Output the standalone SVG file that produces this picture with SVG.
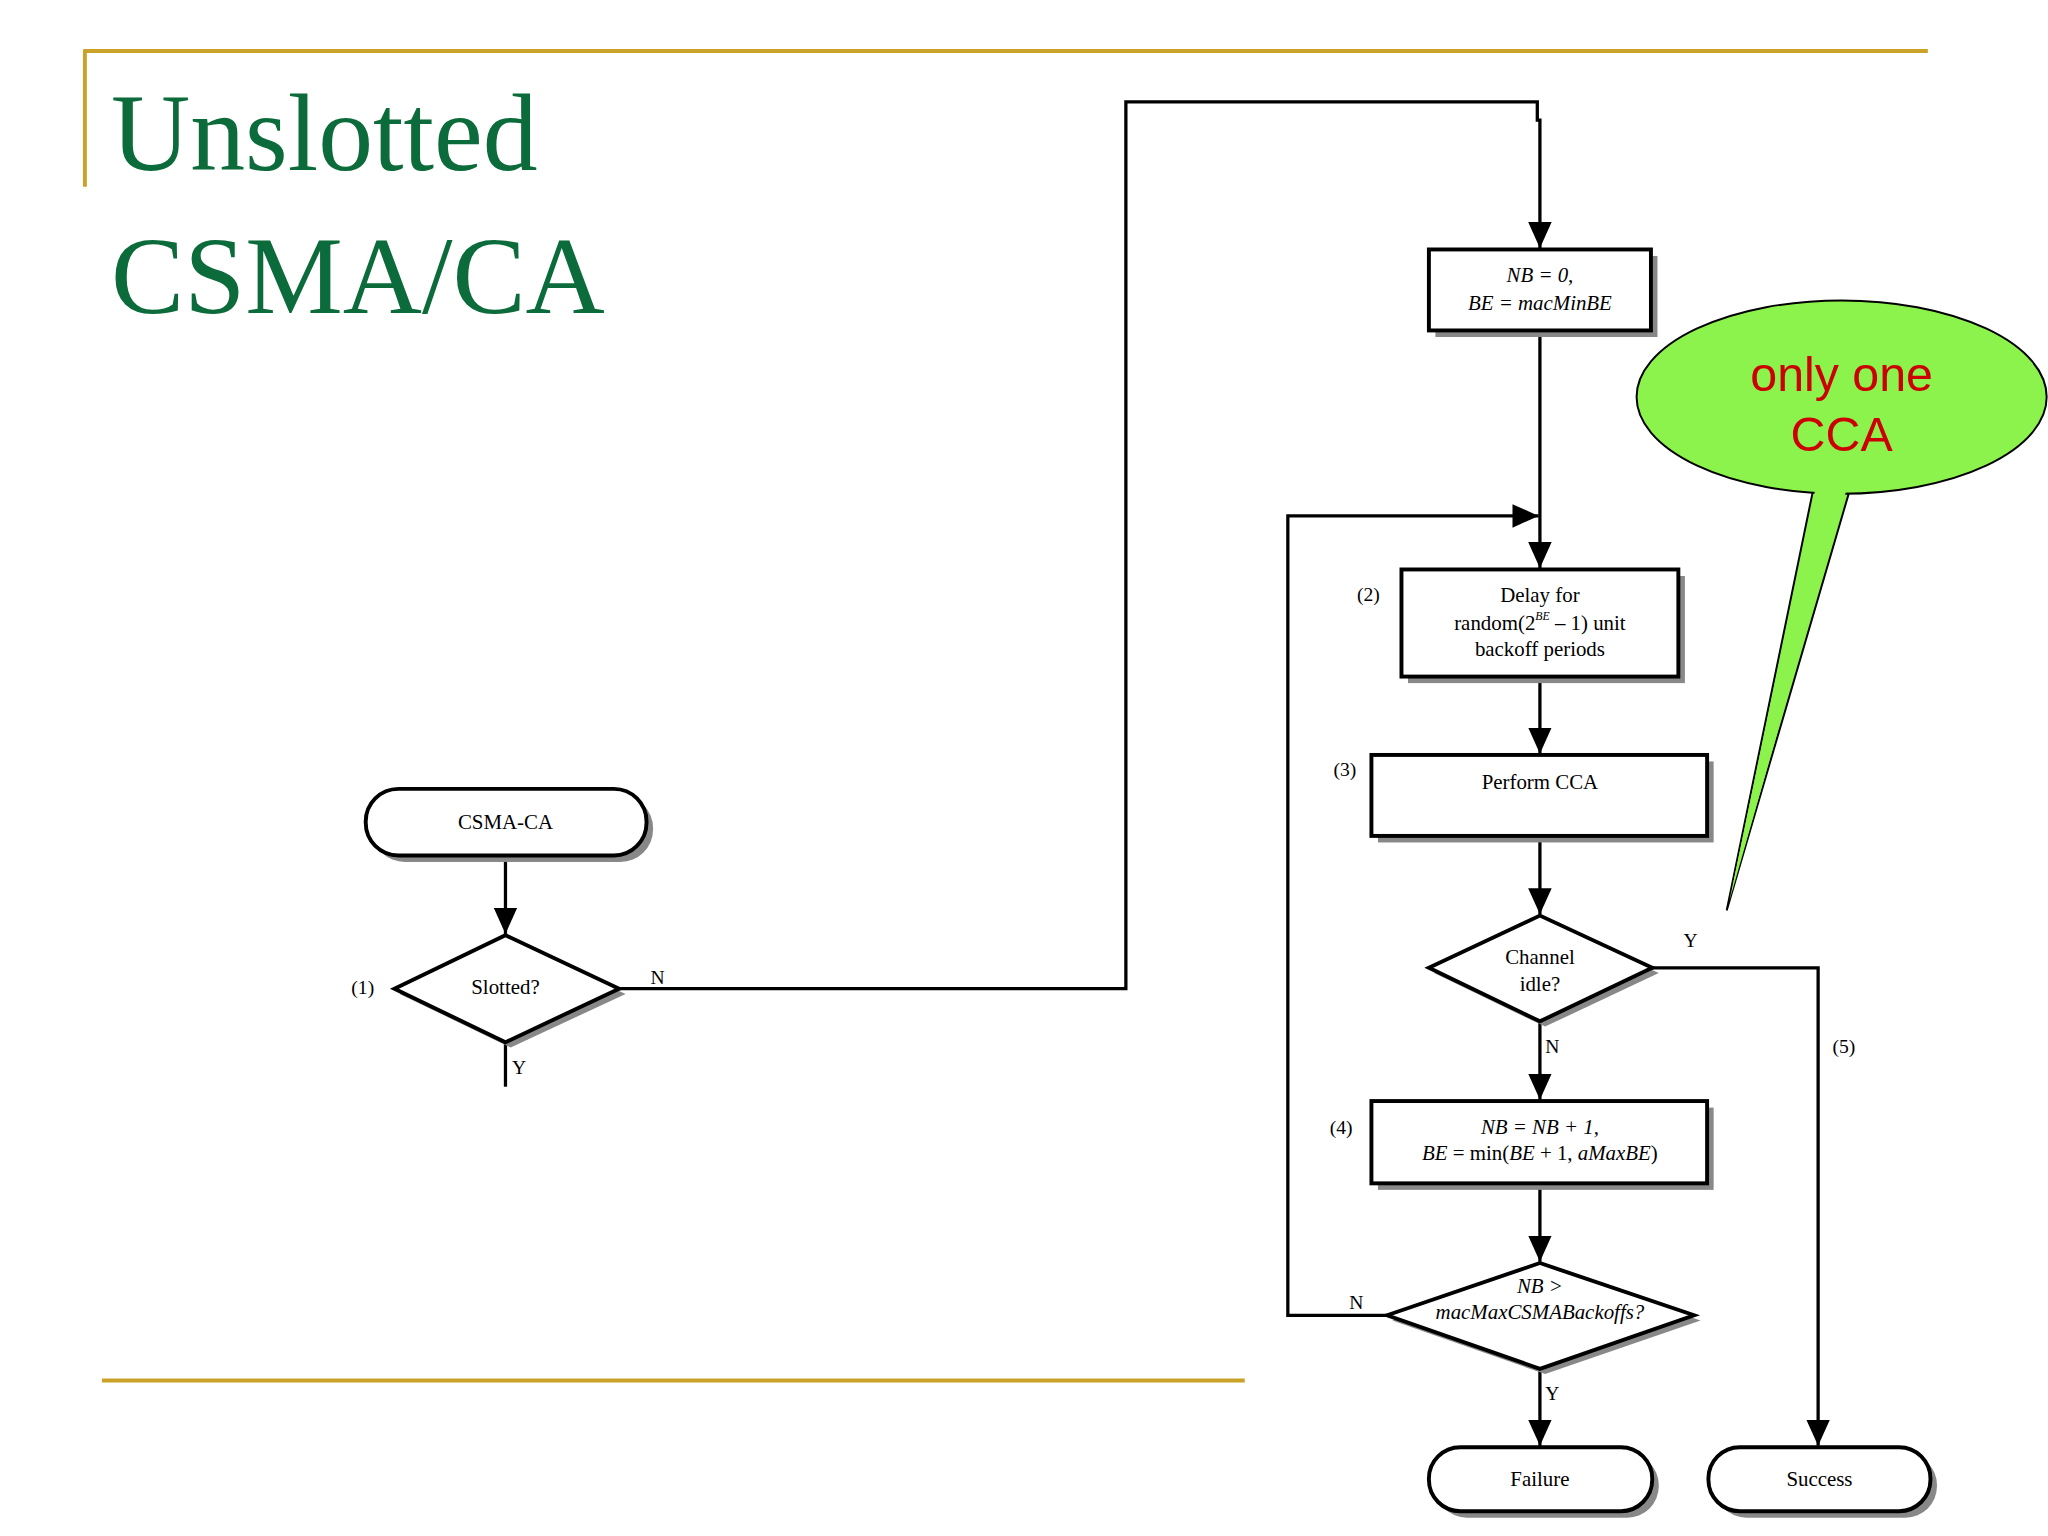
<svg xmlns="http://www.w3.org/2000/svg" width="2048" height="1536" viewBox="0 0 2048 1536">
<style>
.t{font-family:"Liberation Serif",serif;font-size:16px;fill:#000;text-anchor:middle}
.i{font-style:italic}
.l{font-family:"Liberation Serif",serif;font-size:15px;fill:#000}
.box{fill:#fff;stroke:#000;stroke-width:3}
.sh{fill:#888}
.c{fill:none;stroke:#000;stroke-width:2.5}
.title{font-family:"Liberation Serif",serif;font-size:84px;fill:#0b6b3a}
</style>
<defs>
<marker id="a" viewBox="0 0 10 10" refX="10" refY="5" markerWidth="7" markerHeight="7" orient="auto" markerUnits="userSpaceOnUse"><path d="M0,0 L10,5 L0,10 z" fill="#000"/></marker>
<marker id="ah" viewBox="0 0 20 20" refX="20" refY="10" markerWidth="20" markerHeight="20" orient="auto" markerUnits="userSpaceOnUse"><path d="M0,1 L20,10 L0,19 z" fill="#000"/></marker>
</defs>
<rect width="2048" height="1536" fill="#fff"/>
<g transform="scale(1.30612)">
<g id="decor">
<line x1="64" y1="39" x2="1476" y2="39" stroke="#c9a227" stroke-width="3"/>
<line x1="65" y1="38" x2="65" y2="143" stroke="#c9a227" stroke-width="3"/>
<line x1="78" y1="1057" x2="953" y2="1057" stroke="#c9a227" stroke-width="3"/>
<text class="title" x="85" y="130">Unslotted</text>
<text class="title" x="85" y="240">CSMA/CA</text>
</g>
<g id="connectors">
<path class="c" d="M387,655 V715" marker-end="url(#ah)"/>
<path class="c" d="M387,798 V832"/>
<path class="c" d="M474,757 H862 V78 H1177 V92 H1179 V190" marker-end="url(#ah)"/>
<path class="c" d="M1179,253 V435" marker-end="url(#ah)"/>
<path class="c" d="M1062,1007 H986 V395 H1178" marker-end="url(#ah)"/>
<path class="c" d="M1179,518 V577" marker-end="url(#ah)"/>
<path class="c" d="M1179,640 V700" marker-end="url(#ah)"/>
<path class="c" d="M1265,741 H1392 V1107" marker-end="url(#ah)"/>
<path class="c" d="M1179,782 V842" marker-end="url(#ah)"/>
<path class="c" d="M1179,906 V966" marker-end="url(#ah)"/>
<path class="c" d="M1179,1048 V1107" marker-end="url(#ah)"/>
<text class="l" x="498" y="753">N</text>
<text class="l" x="392" y="822">Y</text>
<text class="l" x="1289" y="725">Y</text>
<text class="l" x="1183" y="806">N</text>
<text class="l" x="1403" y="806">(5)</text>
<text class="l" x="1033" y="1002">N</text>
<text class="l" x="1183" y="1072">Y</text>
</g>
<g id="start">
<rect class="sh" x="285" y="609" width="215" height="51" rx="25"/>
<rect class="box" x="280" y="604" width="215" height="51" rx="25"/>
<text class="t" x="387" y="635">CSMA-CA</text>
</g>
<g id="slotted">
<path class="sh" d="M306,761 L391,720 L479,761 L391,802 z"/>
<path class="box" d="M302,757 L387,716 L474,757 L387,798 z"/>
<text class="t" x="387" y="761">Slotted?</text>
<text class="l" x="269" y="761">(1)</text>
</g>
<g id="init">
<rect class="sh" x="1099" y="196" width="170" height="62"/>
<rect class="box" x="1094" y="191" width="170" height="62"/>
<text class="t i" x="1179" y="216">NB = 0,</text>
<text class="t i" x="1179" y="237">BE = macMinBE</text>
</g>
<g id="delay">
<rect class="sh" x="1078" y="441" width="212" height="82"/>
<rect class="box" x="1073" y="436" width="212" height="82"/>
<text class="t" x="1179" y="461">Delay for</text>
<text class="t" x="1179" y="482">random(2<tspan font-size="9" dy="-7" font-style="italic">BE</tspan><tspan dy="7"> – 1) unit</tspan></text>
<text class="t" x="1179" y="502">backoff periods</text>
<text class="l" x="1039" y="460">(2)</text>
</g>
<g id="cca">
<rect class="sh" x="1055" y="583" width="257" height="62"/>
<rect class="box" x="1050" y="578" width="257" height="62"/>
<text class="t" x="1179" y="604">Perform CCA</text>
<text class="l" x="1021" y="594">(3)</text>
</g>
<g id="idle">
<path class="sh" d="M1098,745 L1183,705 L1270,745 L1183,786 z"/>
<path class="box" d="M1094,741 L1179,701 L1265,741 L1179,782 z"/>
<text class="t" x="1179" y="738">Channel</text>
<text class="t" x="1179" y="759">idle?</text>
</g>
<g id="incr">
<rect class="sh" x="1055" y="848" width="257" height="63"/>
<rect class="box" x="1050" y="843" width="257" height="63"/>
<text class="t i" x="1179" y="868">NB = NB + 1,</text>
<text class="t" x="1179" y="888"><tspan font-style="italic">BE</tspan> = min(<tspan font-style="italic">BE</tspan> + 1, <tspan font-style="italic">aMaxBE</tspan>)</text>
<text class="l" x="1018" y="868">(4)</text>
</g>
<g id="check">
<path class="sh" d="M1066,1011 L1183,971 L1302,1011 L1183,1052 z"/>
<path class="box" d="M1062,1007 L1179,967 L1297,1007 L1179,1048 z"/>
<text class="t i" x="1179" y="990">NB &gt;</text>
<text class="t i" x="1179" y="1010">macMaxCSMABackoffs?</text>
</g>
<g id="failure">
<rect class="sh" x="1099" y="1113" width="171" height="49" rx="24"/>
<rect class="box" x="1094" y="1108" width="171" height="49" rx="24"/>
<text class="t" x="1179" y="1138">Failure</text>
</g>
<g id="success">
<rect class="sh" x="1313" y="1113" width="170" height="49" rx="24"/>
<rect class="box" x="1308" y="1108" width="170" height="49" rx="24"/>
<text class="t" x="1393" y="1138">Success</text>
</g>
<g id="callout">
<path d="M1388,376 L1322,697 L1416,376" fill="#8cf24c" stroke="#000" stroke-width="1.5"/>
<ellipse cx="1410" cy="304" rx="157" ry="74" fill="#8cf24c" stroke="#000" stroke-width="1.5"/>
<path d="M1390,374 L1324,690 L1414,374 z" fill="#8cf24c"/>
<text x="1410" y="299" font-family="Liberation Sans,sans-serif" font-size="37" fill="#cc0000" text-anchor="middle">only one</text>
<text x="1410" y="345" font-family="Liberation Sans,sans-serif" font-size="37" fill="#cc0000" text-anchor="middle">CCA</text>
</g>
</g>
</svg>
